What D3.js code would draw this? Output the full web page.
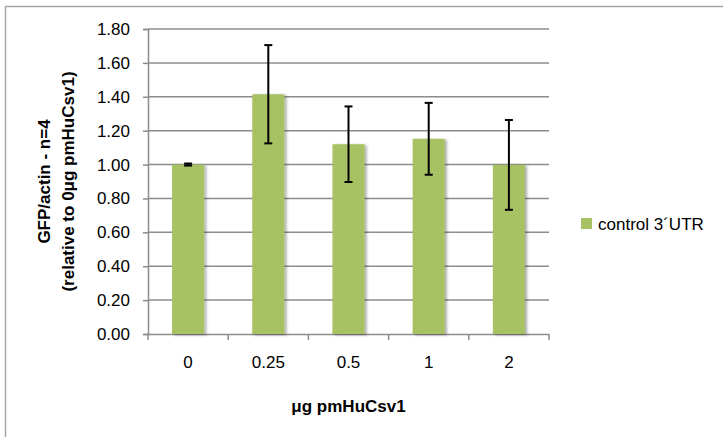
<!DOCTYPE html>
<html><head><meta charset="utf-8">
<script src="https://cdn.jsdelivr.net/npm/d3@7"></script>
<style>body{margin:0;background:#fff}svg{display:block}text{font-family:"Liberation Sans",Arial,sans-serif}</style>
</head><body><svg id="c" width="723" height="437"></svg>
<script>
const categories = ["0","0.25","0.5","1","2"];
const values = [1.00, 1.415, 1.12, 1.152, 0.998];
const errors = [0.006, 0.29, 0.223, 0.212, 0.265];
const yTicks = [0,0.2,0.4,0.6,0.8,1.0,1.2,1.4,1.6,1.8];
const seriesName = "control 3\u00B4UTR";
const yTitle1 = "GFP/actin - n=4";
const yTitle2 = "(relative to 0\u03BCg pmHuCsv1)";
const xTitle = "\u03BCg pmHuCsv1";

const svg = d3.select("#c");
const L=148, R=549, T=29, B=334;
const x = d3.scaleBand().domain(categories).range([L,R]).paddingInner(0.6).paddingOuter(0.3);
const xb = d3.scaleBand().domain(categories).range([L,R]);
const y = d3.scaleLinear().domain([0,1.8]).range([B,T]);

const defs = svg.append("defs");
const f = defs.append("filter").attr("id","sh").attr("x","-20%").attr("y","-5%").attr("width","150%").attr("height","115%");
f.append("feDropShadow").attr("dx",2).attr("dy",1).attr("stdDeviation",1.5).attr("flood-color","#000").attr("flood-opacity",0.35);

// outer border
svg.append("rect").attr("x",5.5).attr("y",6.5).attr("width",900).attr("height",900)
  .attr("fill","none").attr("stroke","#a6a6a6").attr("stroke-width",1.5);

// gridlines
svg.append("g").selectAll("line").data(yTicks.slice(1)).join("line")
  .attr("x1",L).attr("x2",R).attr("y1",d=>y(d)).attr("y2",d=>y(d))
  .attr("stroke","#8c8c8c").attr("stroke-width",1.5);

// y axis
const ya = svg.append("g").attr("transform",`translate(${L},0)`)
  .call(d3.axisLeft(y).tickValues(yTicks).tickFormat(d3.format(".2f")).tickSize(5).tickPadding(13));
ya.select(".domain").attr("stroke","#8c8c8c").attr("stroke-width",1.5);
ya.selectAll(".tick line").attr("stroke","#8c8c8c").attr("stroke-width",1.5);
ya.selectAll("text").attr("font-size",17).attr("fill","#000").attr("font-family","'Liberation Sans',Arial,sans-serif");

// x axis
const xa = svg.append("g").attr("transform",`translate(0,${B})`)
  .call(d3.axisBottom(xb).tickSize(0).tickPadding(22));
xa.select(".domain").attr("stroke","#8c8c8c").attr("stroke-width",1.5);
xa.selectAll("text").attr("font-size",17).attr("fill","#000").attr("font-family","'Liberation Sans',Arial,sans-serif");
const bounds = categories.map(c=>xb(c)).concat([R]);
svg.append("g").selectAll("line").data(bounds).join("line")
  .attr("x1",d=>d).attr("x2",d=>d).attr("y1",B).attr("y2",B+6)
  .attr("stroke","#8c8c8c").attr("stroke-width",1.5);

// bars
svg.append("g").selectAll("rect").data(values).join("rect")
  .attr("x",(d,i)=>x(categories[i])).attr("width",x.bandwidth())
  .attr("y",d=>y(d)).attr("height",d=>B-y(d))
  .attr("fill","#a7c262").attr("filter","url(#sh)");

// error bars
const eg = svg.append("g").attr("stroke","#000").attr("stroke-width",2);
values.forEach((v,i)=>{
  const cx = x(categories[i])+x.bandwidth()/2;
  eg.append("line").attr("x1",cx).attr("x2",cx).attr("y1",y(v+errors[i])).attr("y2",y(v-errors[i]));
  [v+errors[i], v-errors[i]].forEach(e=>{
    eg.append("line").attr("x1",cx-4).attr("x2",cx+4).attr("y1",y(e)).attr("y2",y(e));
  });
});

// y title
const yt = svg.append("text").attr("transform",`translate(50,${(T+B)/2}) rotate(-90)`)
  .attr("text-anchor","middle").attr("font-weight","bold").attr("font-size",17);
yt.append("tspan").attr("x",0).attr("dy",0).text(yTitle1);
yt.append("tspan").attr("x",0).attr("dy",24).text(yTitle2);

// x title
svg.append("text").attr("x",(L+R)/2).attr("y",412).attr("text-anchor","middle")
  .attr("font-weight","bold").attr("font-size",17).text(xTitle);

// legend
svg.append("rect").attr("x",581).attr("y",218).attr("width",11).attr("height",11).attr("fill","#a7c262");
svg.append("text").attr("x",598).attr("y",230).attr("font-size",17).text(seriesName);
</script></body></html>
